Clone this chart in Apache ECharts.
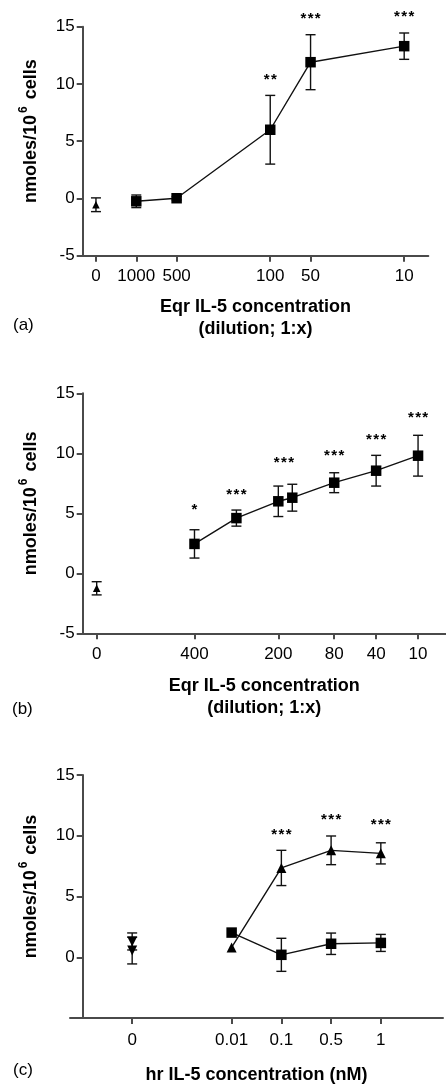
<!DOCTYPE html>
<html><head><meta charset="utf-8">
<script src="https://cdn.jsdelivr.net/npm/echarts@6/dist/echarts.min.js"></script>
<style>html,body{margin:0;padding:0;background:#fff}#c{width:446px;height:1087px}</style>
</head><body><div id="c"></div>
<script>
// ---------- Panel (a) ----------
const aTickLabels = ['0', '1000', '500', '100', '50', '10'];
const aDilutions = [1000, 500, 100, 50, 10];
const aCtrlPos = -0.301;            // position of the "0" control on the log axis
const aCtrlMean = [-0.55];
const aCtrlSem = [0.6];
const aMean = [-0.25, 0.02, 6.0, 11.9, 13.3];
const aSem = [0.55, 0.15, 3.0, 2.4, 1.15];
const aStarText = ['**', '***', '***'];
const aStarDil = [100, 50, 10];
const aStarY = [10.7, 16.0, 16.2];

// ---------- Panel (b) ----------
const bTickLabels = ['0', '400', '200', '80', '40', '10'];
const bTickPos = [-7, 0, 6, 10, 13, 16];
const bCtrlPos = [-7];
const bCtrlMean = [-1.25];
const bCtrlSem = [0.55];
const bX = [0, 3, 6, 7, 10, 13, 16];
const bMean = [2.45, 4.6, 6.0, 6.3, 7.55, 8.55, 9.8];
const bSem = [1.18, 0.67, 1.27, 1.12, 0.83, 1.28, 1.7];
const bStarText = ['*', '***', '***', '***', '***', '***'];
const bStarX = [0, 3, 6.4, 10, 13, 16];
const bStarY = [5.55, 6.8, 9.5, 10.05, 11.4, 13.25];

// ---------- Panel (c) ----------
const cTickLabels = ['0', '0.01', '0.1', '0.5', '1'];
const cTickPos = [-2, 0, 1, 2, 3];
const cX = [0, 1, 2, 3];
const cTriMean = [0.81, 7.35, 8.8, 8.55];
const cTriSem = [0, 1.45, 1.18, 0.87];
const cSqMean = [2.03, 0.2, 1.11, 1.18];
const cSqSem = [0, 1.36, 0.88, 0.7];
const cCtrlPos = [-2, -2];
const cCtrlMean = [1.3, 0.55];
const cCtrlSem = [0.7, 1.1];
const cStarText = ['***', '***', '***'];
const cStarX = [1, 2, 3];
const cStarY = [10.4, 11.57, 11.19];

const yTicks = [-5, 0, 5, 10, 15];
const yTicksC = [0, 5, 10, 15];

const FONT = '"Liberation Sans", Arial, Helvetica, sans-serif';
const AX = '#4a4a4a';
const INK = '#000';

const logPos = d => Math.log10(1000 / d);
const aX = aDilutions.map(logPos);
const aTickPos = [aCtrlPos].concat(aX);
const aStarX = aStarDil.map(logPos);

function zip(xs, ys, es) { return xs.map((x, i) => es ? [x, ys[i], es[i]] : [x, ys[i]]); }

function errRender(params, api) {
  const x = api.value(0), m = api.value(1), s = api.value(2);
  if (!(s > 0)) return null;
  const t = api.coord([x, m + s]), b = api.coord([x, m - s]);
  const w = 5;
  const style = { stroke: '#111', lineWidth: 1.4, fill: null };
  return { type: 'group', children: [
    { type: 'line', shape: { x1: t[0], y1: t[1], x2: b[0], y2: b[1] }, style },
    { type: 'line', shape: { x1: t[0] - w, y1: t[1], x2: t[0] + w, y2: t[1] }, style },
    { type: 'line', shape: { x1: b[0] - w, y1: b[1], x2: b[0] + w, y2: b[1] }, style }
  ]};
}
function starRender(texts) {
  return function (params, api) {
    const p = api.coord([api.value(0), api.value(1)]);
    const txt = texts[params.dataIndex];
    const n = txt.length, pitch = 7.2;
    const children = [];
    for (let i = 0; i < n; i++) {
      children.push({ type: 'text', x: p[0] + (i - (n - 1) / 2) * pitch, y: p[1] + 3.5,
        style: { text: txt[i], fill: INK, fontSize: 15, fontFamily: FONT, fontWeight: 'bold',
          align: 'center', verticalAlign: 'middle', textAlign: 'center', textVerticalAlign: 'middle' } });
    }
    return { type: 'group', children };
  };
}
function errSeries(idx, data) {
  return { type: 'custom', xAxisIndex: idx, yAxisIndex: idx, data, renderItem: errRender,
    encode: { x: 0, y: 1 }, z: 1, silent: true };
}
function starSeries(idx, xs, ys, texts) {
  return { type: 'custom', xAxisIndex: idx, yAxisIndex: idx, data: zip(xs, ys), renderItem: starRender(texts),
    encode: { x: 0, y: 1 }, z: 5, silent: true };
}
function lineSeries(idx, data, symbol, size, rot) {
  return { type: 'line', xAxisIndex: idx, yAxisIndex: idx, data: data.map(d => [d[0], d[1]]),
    symbol, symbolSize: size, symbolRotate: rot || 0, showSymbol: true,
    lineStyle: { color: '#111', width: 1.4 }, itemStyle: { color: INK }, z: 3 };
}
function scatterSeries(idx, data, symbol, size, rot) {
  return { type: 'scatter', xAxisIndex: idx, yAxisIndex: idx, data: data.map(d => [d[0], d[1]]),
    symbol, symbolSize: size, symbolRotate: rot || 0, itemStyle: { color: INK, opacity: 1 }, z: 3 };
}
function labelFor(pos, labels) {
  return function (v) {
    let best = 0, bd = Infinity;
    pos.forEach((p, i) => { const d = Math.abs(p - v); if (d < bd) { bd = d; best = i; } });
    return labels[best];
  };
}
const yNameRich = {
  t: { fontSize: 18, fontWeight: 'bold', fontFamily: FONT, color: INK, lineHeight: 26 },
  s: { fontSize: 12, fontWeight: 'bold', fontFamily: FONT, color: INK, verticalAlign: 'top', lineHeight: 26,
       padding: [0, 2, 0, 2] }
};
function xAxis(idx, min, max, pos, labels, name, gap, margin) {
  return { type: 'value', gridIndex: idx, min, max, splitLine: { show: false },
    axisLine: { show: true, onZero: false, lineStyle: { color: AX, width: 2 } },
    axisTick: { show: true, customValues: pos, length: 6, lineStyle: { color: AX, width: 2 } },
    axisLabel: { customValues: pos, formatter: labelFor(pos, labels), fontSize: 17, fontFamily: FONT,
      color: INK, margin, lineHeight: 17, showMinLabel: true, showMaxLabel: true },
    name, nameLocation: 'middle', nameGap: gap,
    nameTextStyle: { fontSize: 18, fontWeight: 'bold', fontFamily: FONT, color: INK, lineHeight: 22,
      verticalAlign: 'top' } };
}
function yAxis(idx, ticks, offset) {
  return { type: 'value', gridIndex: idx, min: -5, max: 15, offset: offset || 0,
    splitLine: { show: false },
    axisLine: { show: true, onZero: false, lineStyle: { color: AX, width: 2 } },
    axisTick: { show: true, customValues: ticks, length: 6, lineStyle: { color: AX, width: 2 } },
    axisLabel: { customValues: ticks, fontSize: 17, fontFamily: FONT, color: INK, margin: 8 },
    name: '{t|nmoles/10}{s|6}{t| cells}', nameLocation: 'middle', nameGap: 39, nameRotate: 90,
    nameTextStyle: { rich: yNameRich, padding: [0, 0, 0, 20] } };
}

const chart = echarts.init(document.getElementById('c'), null, { renderer: 'canvas' });
chart.setOption({
  animation: false,
  backgroundColor: '#fff',
  textStyle: { fontFamily: FONT },
  grid: [
    { left: 82.7, top: 26.7, width: 345.6, height: 229 },
    { left: 82.7, top: 393.3, width: 365.6, height: 240 },
    { left: 70, top: 775, width: 373, height: 246.7 }
  ],
  xAxis: [
    xAxis(0, -0.4, 2.18, aTickPos, aTickLabels, 'Eqr IL-5 concentration\n(dilution; 1:x)', 40, 12),
    xAxis(1, -8, 18, bTickPos, bTickLabels, 'Eqr IL-5 concentration\n(dilution; 1:x)', 42, 13),
    xAxis(2, -3.25, 4.25, cTickPos, cTickLabels, 'hr IL-5 concentration (nM)', 46, 14)
  ],
  yAxis: [ yAxis(0, yTicks), yAxis(1, yTicks), yAxis(2, yTicksC, -12.7) ],
  graphic: [
    { type: 'text', left: 13, top: 317, style: { text: '(a)', fontSize: 17, fontFamily: FONT, fill: INK } },
    { type: 'text', left: 12, top: 701, style: { text: '(b)', fontSize: 17, fontFamily: FONT, fill: INK } },
    { type: 'text', left: 13, top: 1062, style: { text: '(c)', fontSize: 17, fontFamily: FONT, fill: INK } }
  ],
  series: [
    // (a)
    errSeries(0, zip([aCtrlPos], aCtrlMean, aCtrlSem)),
    errSeries(0, zip(aX, aMean, aSem)),
    scatterSeries(0, zip([aCtrlPos], aCtrlMean), 'triangle', 7.5),
    lineSeries(0, zip(aX, aMean), 'rect', 10.5),
    starSeries(0, aStarX, aStarY, aStarText),
    // (b)
    errSeries(1, zip(bCtrlPos, bCtrlMean, bCtrlSem)),
    errSeries(1, zip(bX, bMean, bSem)),
    scatterSeries(1, zip(bCtrlPos, bCtrlMean), 'triangle', 7.5),
    lineSeries(1, zip(bX, bMean), 'rect', 10.5),
    starSeries(1, bStarX, bStarY, bStarText),
    // (c)
    errSeries(2, zip(cCtrlPos, cCtrlMean, cCtrlSem)),
    errSeries(2, zip(cX, cTriMean, cTriSem)),
    errSeries(2, zip(cX, cSqMean, cSqSem)),
    scatterSeries(2, zip(cCtrlPos, cCtrlMean), 'triangle', 10, 180),
    lineSeries(2, zip(cX, cTriMean), 'triangle', 10),
    lineSeries(2, zip(cX, cSqMean), 'rect', 10.5),
    starSeries(2, cStarX, cStarY, cStarText)
  ]
});
</script></body></html>
